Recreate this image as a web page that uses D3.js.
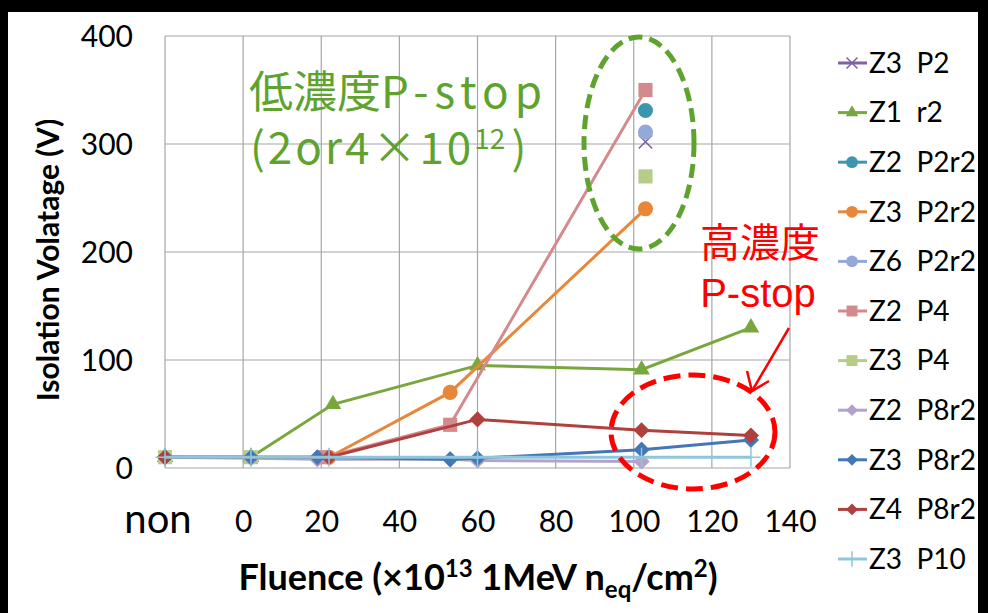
<!DOCTYPE html>
<html>
<head>
<meta charset="UTF-8">
<title>Isolation Voltage vs Fluence</title>
<script src="https://cdn.jsdelivr.net/npm/d3@7/dist/d3.min.js"></script>
<style>
body { margin: 0; background: #000; }
text { font-family: Lato, sans-serif; }
.jp { font-family: "Noto Sans CJK JP", sans-serif; }
</style>
</head>
<body>
<svg id="chart" width="988" height="613"></svg>
<script>
// "non" (not irradiated) is drawn at fluence -20
var NON = -20;
var xTicks = [0, 20, 40, 60, 80, 100, 120, 140];
var yTicks = [0, 100, 200, 300, 400];

var seriesNames = ["Z3  P2", "Z1  r2", "Z2  P2r2", "Z3  P2r2", "Z6  P2r2", "Z2  P4",
                   "Z3  P4", "Z2  P8r2", "Z3  P8r2", "Z4  P8r2", "Z3  P10"];
var seriesColors = ["#7e62a1", "#7aa63e", "#3a97ad", "#e8873a", "#93a9d8", "#d48a8d",
                    "#b6cd8a", "#b3a2c9", "#4377b6", "#b0403e", "#8fc6dc"];
var seriesMarkers = ["times", "triangle", "circle", "circle", "circle", "square",
                     "square", "diamond", "diamond", "diamond", "plus"];

// [fluence, voltage]; null voltage breaks the line
var z3p2 = [[103, 302]];
var z1r2 = [[NON, 10], [2, 10], [23, 59], [60, 95], [102, 91], [130, 130]];
var z2p2r2 = [[103, 331]];
var z3p2r2 = [[22, 10], [53, 70], [103, 240]];
var z6p2r2 = [[103, 311]];
var z2p4 = [[21, 10], [53, 40], [103, 350]];
var z3p4 = [[NON, 10], [2, 10], [20, null], [103, 270]];
var z2p8r2 = [[NON, 10], [2, 9], [19, 8], [53, 8], [60, 7], [102, 6]];
var z3p8r2 = [[NON, 10], [2, 10], [19, 10], [53, 8], [60, 9], [102, 17], [130, 26]];
var z4p8r2 = [[NON, 10], [22, 10], [60, 45], [102, 35], [130, 30]];
var z3p10 = [[NON, 10], [2, 10], [22, 10], [60, 10], [102, 10], [130, 10]];
var seriesData = [z3p2, z1r2, z2p2r2, z3p2r2, z6p2r2, z2p4, z3p4, z2p8r2, z3p8r2, z4p8r2, z3p10];

var svg = d3.select("#chart");
svg.append("rect").attr("x", 8).attr("y", 12).attr("width", 970).attr("height", 601).attr("fill", "#fff");

var x = d3.scaleLinear().domain([NON, 140]).range([165, 790]);
var y = d3.scaleLinear().domain([0, 400]).range([468, 36]);

// grid
var grid = svg.append("g");
grid.selectAll(".vg").data([NON].concat(xTicks)).enter().append("line")
  .attr("x1", function(d) { return x(d); }).attr("x2", function(d) { return x(d); })
  .attr("y1", y(400)).attr("y2", y(0))
  .attr("stroke", "#a6a6a6").attr("stroke-width", 1.2);
grid.selectAll(".hg").data(yTicks).enter().append("line")
  .attr("x1", x(NON)).attr("x2", x(140))
  .attr("y1", function(d) { return y(d); }).attr("y2", function(d) { return y(d); })
  .attr("stroke", "#a6a6a6").attr("stroke-width", 1.2);

// axes (labels only)
var yAxis = svg.append("g").attr("transform", "translate(" + (x(NON) - 32) + ",0)")
  .call(d3.axisLeft(y).tickValues(yTicks).tickSize(0).tickPadding(0));
yAxis.select(".domain").remove();
yAxis.selectAll("text").attr("font-size", 30).attr("fill", "#000").attr("dy", "0.35em")
  .style("font-family", "Lato, sans-serif");

var xAxis = svg.append("g").attr("transform", "translate(0," + (y(0) + 53) + ")")
  .call(d3.axisBottom(x).tickValues(xTicks).tickSize(0).tickPadding(0));
xAxis.select(".domain").remove();
xAxis.selectAll("text").attr("font-size", 30).attr("fill", "#000").attr("dy", "0.35em")
  .style("font-family", "Lato, sans-serif");
svg.append("text").attr("x", x(NON) - 7).attr("y", y(0) + 51).attr("dy", "0.35em")
  .attr("text-anchor", "middle").attr("font-size", 40).style("font-family", "Lato, sans-serif")
  .text("non");

// axis titles
var xt = svg.append("text").attr("x", 478).attr("y", 590).attr("text-anchor", "middle")
  .attr("font-size", 36).attr("font-weight", "bold").style("font-family", "Lato, sans-serif");
xt.append("tspan").text("Fluence (\u00d710");
xt.append("tspan").attr("dy", -13).attr("font-size", 24).text("13");
xt.append("tspan").attr("dy", 13).text(" 1MeV n");
xt.append("tspan").attr("dy", 8).attr("font-size", 24).text("eq");
xt.append("tspan").attr("dy", -8).text("/cm");
xt.append("tspan").attr("dy", -13).attr("font-size", 24).text("2");
xt.append("tspan").attr("dy", 13).text(")");

svg.append("text").attr("transform", "translate(59,260) rotate(-90)").attr("text-anchor", "middle")
  .attr("font-size", 30).attr("font-weight", "bold").style("font-family", "Lato, sans-serif")
  .text("Isolation Volatage (V)");

// markers
function markerPath(type, size) {
  var t = { circle: d3.symbolCircle, square: d3.symbolSquare, triangle: d3.symbolTriangle,
            diamond: d3.symbolSquare, times: d3.symbolTimes, plus: d3.symbolPlus }[type];
  return d3.symbol().type(t).size(size)();
}
function drawMarker(g, type, color, cx, cy, size) {
  var p = g.append("path").attr("d", markerPath(type, size))
    .attr("transform", "translate(" + cx + "," + cy + ")" + (type === "diamond" ? " rotate(45)" : ""));
  if (type === "times" || type === "plus") {
    p.attr("fill", "none").attr("stroke", color).attr("stroke-width", 1.5);
  } else {
    p.attr("fill", color);
  }
}

var line = d3.line()
  .defined(function(d) { return d[1] !== null; })
  .x(function(d) { return x(d[0]); })
  .y(function(d) { return y(d[1]); });

var plot = svg.append("g");
seriesData.forEach(function(data, i) {
  var g = plot.append("g");
  g.append("path").datum(data).attr("d", line).attr("fill", "none")
    .attr("stroke", seriesColors[i]).attr("stroke-width", 3);
  data.forEach(function(d) {
    if (d[1] === null) return;
    var sz = { circle: 180, square: 200, triangle: 120, diamond: 130, times: 120, plus: 120 }[seriesMarkers[i]];
    drawMarker(g, seriesMarkers[i], seriesColors[i], x(d[0]), y(d[1]), sz);
  });
});

// legend
var legend = svg.append("g");
seriesNames.forEach(function(name, i) {
  var ly = 63 + i * 49.6;
  legend.append("line").attr("x1", 838).attr("x2", 867).attr("y1", ly).attr("y2", ly)
    .attr("stroke", seriesColors[i]).attr("stroke-width", 3);
  var sz = { circle: 110, square: 120, triangle: 70, diamond: 70, times: 80, plus: 80 }[seriesMarkers[i]];
  drawMarker(legend, seriesMarkers[i], seriesColors[i], 852, ly, sz);
  legend.append("text").attr("x", 869).attr("y", ly).attr("dy", "0.35em")
    .attr("font-size", 28).style("font-family", "Lato, sans-serif")
    .attr("xml:space", "preserve").style("white-space", "pre").text(name);
});

// annotations
svg.append("ellipse").attr("cx", 639).attr("cy", 143).attr("rx", 55).attr("ry", 106)
  .attr("fill", "none").attr("stroke", "#5fa32f").attr("stroke-width", 5)
  .attr("stroke-dasharray", "14,7");
svg.append("ellipse").attr("cx", 693).attr("cy", 432).attr("rx", 82).attr("ry", 57)
  .attr("fill", "none").attr("stroke", "#ff0000").attr("stroke-width", 5)
  .attr("stroke-dasharray", "17,8");

// two-line green note kept as one text element
var note = svg.append("text").attr("class", "jp").attr("x", 249).attr("y", 108)
  .attr("font-size", 44).attr("fill", "#5fa32f");
note.append("tspan").text("\u4f4e\u6fc3\u5ea6");
note.append("tspan").attr("letter-spacing", 6).text("P-stop");
note.append("tspan").attr("x", 250).attr("dy", 56).attr("letter-spacing", 3).text("(2or4\u00d710");
note.append("tspan").attr("dy", -15).attr("font-size", 28).text("12");
note.append("tspan").attr("dy", 15).attr("dx", 6).text(")");

svg.append("text").attr("class", "jp").attr("x", 760).attr("y", 257).attr("text-anchor", "middle")
  .attr("font-size", 40).attr("fill", "#ff0000").text("\u9ad8\u6fc3\u5ea6");
svg.append("text").attr("x", 758).attr("y", 307).attr("text-anchor", "middle")
  .attr("font-size", 40).attr("fill", "#ff0000").style("font-family", "Liberation Sans, sans-serif")
  .text("P-stop");

svg.append("line").attr("x1", 789).attr("y1", 328).attr("x2", 752).attr("y2", 391)
  .attr("stroke", "#ff0000").attr("stroke-width", 2.5);
svg.append("path").attr("d", "M747,371 L752,391 L769,381").attr("fill", "none")
  .attr("stroke", "#ff0000").attr("stroke-width", 2.5);
</script>
</body>
</html>
